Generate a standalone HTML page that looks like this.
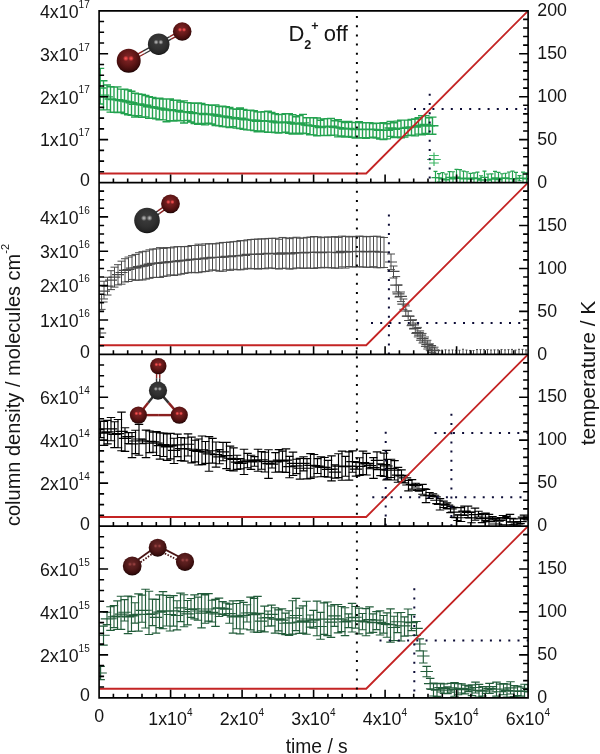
<!DOCTYPE html>
<html><head><meta charset="utf-8"><style>
html,body{margin:0;padding:0;background:#fff;}
body{width:600px;height:754px;position:relative;overflow:hidden;}
text{filter:grayscale(1);}
</style></head><body>
<svg width="600" height="754" viewBox="0 0 600 754" style="position:absolute;left:0;top:0">
<defs>
<radialGradient id="gr" cx="48%" cy="38%" r="62%"><stop offset="0" stop-color="#86282a"/><stop offset="0.5" stop-color="#641818"/><stop offset="0.85" stop-color="#400c0c"/><stop offset="1" stop-color="#1a0303"/></radialGradient>
<radialGradient id="gk" cx="48%" cy="38%" r="62%"><stop offset="0" stop-color="#3e3e3e"/><stop offset="0.6" stop-color="#303030"/><stop offset="0.88" stop-color="#242424"/><stop offset="1" stop-color="#0c0c0c"/></radialGradient>
<radialGradient id="go" cx="48%" cy="38%" r="62%"><stop offset="0" stop-color="#6a2626"/><stop offset="0.5" stop-color="#521a1a"/><stop offset="0.85" stop-color="#360c0c"/><stop offset="1" stop-color="#180404"/></radialGradient>
<radialGradient id="hr"><stop offset="0" stop-color="#ff5c5c" stop-opacity="1"/><stop offset="0.5" stop-color="#f04848" stop-opacity="0.7"/><stop offset="1" stop-color="#d03030" stop-opacity="0"/></radialGradient>
<radialGradient id="hk"><stop offset="0" stop-color="#c8c8c8" stop-opacity="1"/><stop offset="0.5" stop-color="#a0a0a0" stop-opacity="0.7"/><stop offset="1" stop-color="#808080" stop-opacity="0"/></radialGradient>
<radialGradient id="ho"><stop offset="0" stop-color="#b04848" stop-opacity="1"/><stop offset="0.5" stop-color="#904040" stop-opacity="0.6"/><stop offset="1" stop-color="#803030" stop-opacity="0"/></radialGradient>

<clipPath id="c0"><rect x="99.1" y="10.8" width="429" height="171.75"/></clipPath>
<clipPath id="c1"><rect x="99.1" y="182.55" width="429" height="171.75"/></clipPath>
<clipPath id="c2"><rect x="99.1" y="354.3" width="429" height="171.75"/></clipPath>
<clipPath id="c3"><rect x="99.1" y="526.05" width="429" height="171.75"/></clipPath>
</defs>
<rect width="600" height="754" fill="#fff"/>
<g clip-path="url(#c0)" stroke="#23a24f" fill="none">
<path stroke-width="1.4" d="M100.2 68.4V104M96.2 68.4h8M96.2 104h8M103.5 80.72V109.9M99.5 80.72h8M99.5 109.9h8M107 85.07V109.87M103 85.07h8M103 109.87h8M110.5 86.78V112.09M106.5 86.78h8M106.5 112.09h8M114 87.03V112.31M110 87.03h8M110 112.31h8M117.5 86.92V112.67M113.5 86.92h8M113.5 112.67h8M121 89.09V112.29M117 89.09h8M117 112.29h8M124.5 89.2V113.63M120.5 89.2h8M120.5 113.63h8M128 89.87V114.78M124 89.87h8M124 114.78h8M131.5 91.22V115.42M127.5 91.22h8M127.5 115.42h8M135 93.26V117.04M131 93.26h8M131 117.04h8M138.5 93.87V115.77M134.5 93.87h8M134.5 115.77h8M142 94.36V117.39M138 94.36h8M138 117.39h8M145.5 95.46V116.89M141.5 95.46h8M141.5 116.89h8M149 96.77V118.35M145 96.77h8M145 118.35h8M152.5 97.4V118.3M148.5 97.4h8M148.5 118.3h8M156 98.49V118.86M152 98.49h8M152 118.86h8M159.5 98.21V119.79M155.5 98.21h8M155.5 119.79h8M163 99.17V119.87M159 99.17h8M159 119.87h8M166.5 98.9V121.75M162.5 98.9h8M162.5 121.75h8M170 99.05V120.81M166 99.05h8M166 120.81h8M173.5 100.24V121M169.5 100.24h8M169.5 121h8M177 100.26V120.41M173 100.26h8M173 120.41h8M180.5 101.98V120.81M176.5 101.98h8M176.5 120.81h8M184 100.91V122.98M180 100.91h8M180 122.98h8M187.5 102.61V120.49M183.5 102.61h8M183.5 120.49h8M191 103V122.04M187 103h8M187 122.04h8M194.5 103.35V123.43M190.5 103.35h8M190.5 123.43h8M198 103.01V124.3M194 103.01h8M194 124.3h8M201.5 103.55V123.55M197.5 103.55h8M197.5 123.55h8M205 104.66V124.84M201 104.66h8M201 124.84h8M208.5 104.92V123.27M204.5 104.92h8M204.5 123.27h8M212 105.28V124.01M208 105.28h8M208 124.01h8M215.5 104.91V125.47M211.5 104.91h8M211.5 125.47h8M219 106.45V125.76M215 106.45h8M215 125.76h8M222.5 106.28V126.44M218.5 106.28h8M218.5 126.44h8M226 106.78V126.87M222 106.78h8M222 126.87h8M229.5 107.49V127.52M225.5 107.49h8M225.5 127.52h8M233 108.87V126.61M229 108.87h8M229 126.61h8M236.5 109.29V128.14M232.5 109.29h8M232.5 128.14h8M240 108V128.45M236 108h8M236 128.45h8M243.5 109.4V129.25M239.5 109.4h8M239.5 129.25h8M247 110.29V129.87M243 110.29h8M243 129.87h8M250.5 110.25V130.09M246.5 110.25h8M246.5 130.09h8M254 110.75V130.61M250 110.75h8M250 130.61h8M257.5 111.83V131.71M253.5 111.83h8M253.5 131.71h8M261 111.99V130.89M257 111.99h8M257 130.89h8M264.5 111.61V131.89M260.5 111.61h8M260.5 131.89h8M268 111.15V132.36M264 111.15h8M264 132.36h8M271.5 112.54V132.1M267.5 112.54h8M267.5 132.1h8M275 113.77V132.48M271 113.77h8M271 132.48h8M278.5 114.62V133.07M274.5 114.62h8M274.5 133.07h8M282 114.38V132.62M278 114.38h8M278 132.62h8M285.5 113.63V132.18M281.5 113.63h8M281.5 132.18h8M289 113.74V133.19M285 113.74h8M285 133.19h8M292.5 114.77V133.99M288.5 114.77h8M288.5 133.99h8M296 116.69V133.08M292 116.69h8M292 133.08h8M299.5 115.6V134.14M295.5 115.6h8M295.5 134.14h8M303 114.36V133.14M299 114.36h8M299 133.14h8M306.5 117.7V133.67M302.5 117.7h8M302.5 133.67h8M310 117.68V134.75M306 117.68h8M306 134.75h8M313.5 117.79V134.92M309.5 117.79h8M309.5 134.92h8M317 117.97V135.81M313 117.97h8M313 135.81h8M320.5 120.19V135.65M316.5 120.19h8M316.5 135.65h8M324 118.83V135.41M320 118.83h8M320 135.41h8M327.5 118.59V135.49M323.5 118.59h8M323.5 135.49h8M331 118.53V135.23M327 118.53h8M327 135.23h8M334.5 120.69V135.14M330.5 120.69h8M330.5 135.14h8M338 119.68V136.9M334 119.68h8M334 136.9h8M341.5 121.55V135.97M337.5 121.55h8M337.5 135.97h8M345 122.57V137.07M341 122.57h8M341 137.07h8M348.5 121.52V136.55M344.5 121.52h8M344.5 136.55h8M352 122.36V137.3M348 122.36h8M348 137.3h8M355.5 122.62V137.94M351.5 122.62h8M351.5 137.94h8M359 121.82V137.98M355 121.82h8M355 137.98h8M362.5 122.84V137.8M358.5 122.84h8M358.5 137.8h8M366 122.82V138.19M362 122.82h8M362 138.19h8M369.5 122.6V137.71M365.5 122.6h8M365.5 137.71h8M373 123.6V137.24M369 123.6h8M369 137.24h8M376.5 123.08V138.07M372.5 123.08h8M372.5 138.07h8M380 123.31V139.11M376 123.31h8M376 139.11h8M383.5 122.61V139.49M379.5 122.61h8M379.5 139.49h8M387 123.68V138.92M383 123.68h8M383 138.92h8M390.5 121.54V136.39M386.5 121.54h8M386.5 136.39h8M394 122.71V137.44M390 122.71h8M390 137.44h8M397.5 121.1V137.07M393.5 121.1h8M393.5 137.07h8M401 120.08V137.89M397 120.08h8M397 137.89h8M404.5 120.1V137.15M400.5 120.1h8M400.5 137.15h8M408 120.15V135.67M404 120.15h8M404 135.67h8M411.5 119.38V135.12M407.5 119.38h8M407.5 135.12h8M415 118.95V135.88M411 118.95h8M411 135.88h8M418.5 117.8V134.12M414.5 117.8h8M414.5 134.12h8M422 115.78V134.79M418 115.78h8M418 134.79h8M425.5 115.66V133.36M421.5 115.66h8M421.5 133.36h8M429 117.78V134.21M425 117.78h8M425 134.21h8M432.5 117.15V134.24M428.5 117.15h8M428.5 134.24h8"/>
<path stroke-width="1.4" d="M94.2 88h12M97.5 95.1h12M101 96.84h12M104.5 98.97h12M108 99.6h12M111.5 99.74h12M115 100.5h12M118.5 101.08h12M122 101.84h12M125.5 102.69h12M129 104.37h12M132.5 103.89h12M136 104.9h12M139.5 105.26h12M143 106.7h12M146.5 107.04h12M150 107.92h12M153.5 108.29h12M157 108.97h12M160.5 109.93h12M164 109.7h12M167.5 110.56h12M171 110.44h12M174.5 111.64h12M178 112.13h12M181.5 111.67h12M185 112.59h12M188.5 113.4h12M192 113.61h12M195.5 113.44h12M199 114.58h12M202.5 113.87h12M206 114.42h12M209.5 115h12M213 115.96h12M216.5 116.25h12M220 116.76h12M223.5 117.48h12M227 117.76h12M230.5 118.77h12M234 118.32h12M237.5 119.3h12M241 119.92h12M244.5 119.88h12M248 120.26h12M251.5 121.23h12M255 120.77h12M258.5 120.95h12M262 120.83h12M265.5 121.32h12M269 122.13h12M272.5 122.86h12M276 122.52h12M279.5 121.93h12M283 122.49h12M286.5 123.42h12M290 123.93h12M293.5 123.92h12M297 122.9h12M300.5 124.95h12M304 125.6h12M307.5 125.86h12M311 126.42h12M314.5 127.43h12M318 126.6h12M321.5 126.5h12M325 126.31h12M328.5 127.32h12M332 127.67h12M335.5 128.11h12M339 129.15h12M342.5 128.33h12M346 129.1h12M349.5 129.53h12M353 129.11h12M356.5 129.5h12M360 129.64h12M363.5 129.26h12M367 129.49h12M370.5 129.61h12M374 130.21h12M377.5 130.02h12M381 130.31h12M384.5 128.07h12M388 129.28h12M391.5 128.38h12M395 128.38h12M398.5 128.12h12M402 127.5h12M405.5 126.93h12M409 127.15h12M412.5 125.75h12M416 125.13h12M419.5 124.41h12M423 125.94h12M426.5 125.68h12"/>
</g>
<path clip-path="url(#c0)" stroke="#3fb566" stroke-width="1.2" fill="none" d="M434 152.5V166M429 155.5H438.8M429 163H438.8M427 159.5H440.8"/>
<g clip-path="url(#c0)" stroke="#23a24f" fill="none">
<path stroke-width="1.2" d="M435.5 171.38V183.91M433.5 171.38h4M433.5 183.91h4M439 173.71V182.08M437 173.71h4M437 182.08h4M442.5 172.57V185.24M440.5 172.57h4M440.5 185.24h4M446 173.99V185.48M444 173.99h4M444 185.48h4M449.5 171.6V183.42M447.5 171.6h4M447.5 183.42h4M453 171.74V185.79M451 171.74h4M451 185.79h4M456.5 169.43V185.11M454.5 169.43h4M454.5 185.11h4M460 169.71V186.66M458 169.71h4M458 186.66h4M463.5 171.03V186.57M461.5 171.03h4M461.5 186.57h4M467 171.74V184.73M465 171.74h4M465 184.73h4M470.5 173.4V184.8M468.5 173.4h4M468.5 184.8h4M474 172.86V182.99M472 172.86h4M472 182.99h4M477.5 172.04V185M475.5 172.04h4M475.5 185h4M481 175.77V184.22M479 175.77h4M479 184.22h4M484.5 171.22V183.52M482.5 171.22h4M482.5 183.52h4M488 174V185.89M486 174h4M486 185.89h4M491.5 173.88V184.34M489.5 173.88h4M489.5 184.34h4M495 171.37V184.7M493 171.37h4M493 184.7h4M498.5 172.45V186.54M496.5 172.45h4M496.5 186.54h4M502 173.77V182.68M500 173.77h4M500 182.68h4M505.5 173.24V182.84M503.5 173.24h4M503.5 182.84h4M509 172V185.34M507 172h4M507 185.34h4M512.5 171.17V186.24M510.5 171.17h4M510.5 186.24h4M516 172.39V185.13M514 172.39h4M514 185.13h4M519.5 175.71V180.73M517.5 175.71h4M517.5 180.73h4M523 172.1V184.1M521 172.1h4M521 184.1h4M526.5 172.88V184.71M524.5 172.88h4M524.5 184.71h4"/>
<path stroke-width="1.4" d="M431.5 177.64h8M435 177.9h8M438.5 178.9h8M442 179.73h8M445.5 177.51h8M449 178.77h8M452.5 177.27h8M456 178.18h8M459.5 178.8h8M463 178.24h8M466.5 179.1h8M470 177.93h8M473.5 178.52h8M477 179.99h8M480.5 177.37h8M484 179.94h8M487.5 179.11h8M491 178.03h8M494.5 179.5h8M498 178.23h8M501.5 178.04h8M505 178.67h8M508.5 178.7h8M512 178.76h8M515.5 178.22h8M519 178.1h8M522.5 178.8h8"/>
</g>
<g clip-path="url(#c1)" stroke="#4a4a4a" fill="none">
<path stroke-width="1.0" d="M100.2 329V337.5M96.2 329h8M96.2 337.5h8M101.6 294.4V309.4M97.6 294.4h8M97.6 309.4h8M104 281.24V298.96M100 281.24h8M100 298.96h8M107.5 277.25V295.02M103.5 277.25h8M103.5 295.02h8M111 270.71V289.61M107 270.71h8M107 289.61h8M114.5 267.16V287.1M110.5 267.16h8M110.5 287.1h8M118 264.7V284.92M114 264.7h8M114 284.92h8M121.5 261.17V284.17M117.5 261.17h8M117.5 284.17h8M125 258.73V281.98M121 258.73h8M121 281.98h8M128.5 257.09V281.48M124.5 257.09h8M124.5 281.48h8M132 255.68V279.41M128 255.68h8M128 279.41h8M135.5 254.41V280.37M131.5 254.41h8M131.5 280.37h8M139 252.74V279.99M135 252.74h8M135 279.99h8M142.5 251.69V279.97M138.5 251.69h8M138.5 279.97h8M146 251.17V279.08M142 251.17h8M142 279.08h8M149.5 249.85V278.3M145.5 249.85h8M145.5 278.3h8M153 249.02V277.45M149 249.02h8M149 277.45h8M156.5 248.89V277.37M152.5 248.89h8M152.5 277.37h8M160 247.64V277.42M156 247.64h8M156 277.42h8M163.5 248.44V276.42M159.5 248.44h8M159.5 276.42h8M167 247.55V276.01M163 247.55h8M163 276.01h8M170.5 247.92V274.87M166.5 247.92h8M166.5 274.87h8M174 247V275.5M170 247h8M170 275.5h8M177.5 246.67V274.9M173.5 246.67h8M173.5 274.9h8M181 246.56V274.16M177 246.56h8M177 274.16h8M184.5 246.7V273.45M180.5 246.7h8M180.5 273.45h8M188 246.41V272.8M184 246.41h8M184 272.8h8M191.5 245.51V272.38M187.5 245.51h8M187.5 272.38h8M195 245.49V272.73M191 245.49h8M191 272.73h8M198.5 244.17V272.65M194.5 244.17h8M194.5 272.65h8M202 245.32V271.84M198 245.32h8M198 271.84h8M205.5 243.9V271.54M201.5 243.9h8M201.5 271.54h8M209 243.77V270.99M205 243.77h8M205 270.99h8M212.5 243.78V269.92M208.5 243.78h8M208.5 269.92h8M216 243.75V270.36M212 243.75h8M212 270.36h8M219.5 243.03V271.23M215.5 243.03h8M215.5 271.23h8M223 242.45V271.19M219 242.45h8M219 271.19h8M226.5 242.42V269.76M222.5 242.42h8M222.5 269.76h8M230 242.08V270.33M226 242.08h8M226 270.33h8M233.5 241.7V269.25M229.5 241.7h8M229.5 269.25h8M237 241.36V269.72M233 241.36h8M233 269.72h8M240.5 240.59V269.83M236.5 240.59h8M236.5 269.83h8M244 240.8V269.24M240 240.8h8M240 269.24h8M247.5 239.93V268.32M243.5 239.93h8M243.5 268.32h8M251 239.5V268.87M247 239.5h8M247 268.87h8M254.5 239.25V268.48M250.5 239.25h8M250.5 268.48h8M258 239.11V269.11M254 239.11h8M254 269.11h8M261.5 238.9V268.44M257.5 238.9h8M257.5 268.44h8M265 238.89V268.81M261 238.89h8M261 268.81h8M268.5 238.45V267.98M264.5 238.45h8M264.5 267.98h8M272 238.33V268.11M268 238.33h8M268 268.11h8M275.5 238.28V268.59M271.5 238.28h8M271.5 268.59h8M279 239.25V269.04M275 239.25h8M275 269.04h8M282.5 237.45V268.32M278.5 237.45h8M278.5 268.32h8M286 237.92V268.25M282 237.92h8M282 268.25h8M289.5 238.64V269.1M285.5 238.64h8M285.5 269.1h8M293 237.75V268.72M289 237.75h8M289 268.72h8M296.5 237.25V268M292.5 237.25h8M292.5 268h8M300 238.21V267.96M296 238.21h8M296 267.96h8M303.5 237.99V268.37M299.5 237.99h8M299.5 268.37h8M307 237.38V268M303 237.38h8M303 268h8M310.5 237.09V268.17M306.5 237.09h8M306.5 268.17h8M314 236.54V268.45M310 236.54h8M310 268.45h8M317.5 236.84V267.71M313.5 236.84h8M313.5 267.71h8M321 237.67V267.87M317 237.67h8M317 267.87h8M324.5 237.15V267.36M320.5 237.15h8M320.5 267.36h8M328 237.07V267.77M324 237.07h8M324 267.77h8M331.5 237.08V267.75M327.5 237.08h8M327.5 267.75h8M335 236.65V268.15M331 236.65h8M331 268.15h8M338.5 237.41V268.13M334.5 237.41h8M334.5 268.13h8M342 236.2V266.89M338 236.2h8M338 266.89h8M345.5 236.35V268.05M341.5 236.35h8M341.5 268.05h8M349 236.94V266.55M345 236.94h8M345 266.55h8M352.5 236.35V267.05M348.5 236.35h8M348.5 267.05h8M356 236.8V266.79M352 236.8h8M352 266.79h8M359.5 236.11V266.82M355.5 236.11h8M355.5 266.82h8M363 236.38V266.99M359 236.38h8M359 266.99h8M366.5 236.79V267.26M362.5 236.79h8M362.5 267.26h8M370 236.44V267.27M366 236.44h8M366 267.27h8M373.5 236.37V266.71M369.5 236.37h8M369.5 266.71h8M377 236.25V267.71M373 236.25h8M373 267.71h8M380.5 237.02V267.72M376.5 237.02h8M376.5 267.72h8M384 237.49V267.47M380 237.49h8M380 267.47h8M391 254V269.7M387 254h8M387 269.7h8M393.5 266V278M389.5 266h8M389.5 278h8M396.2 276.6V292M392.2 276.6h8M392.2 292h8M398.54 285V297M394.54 285h8M394.54 297h8M400.95 292V301.6M396.95 292h8M396.95 301.6h8M403.36 299V309.3M399.36 299h8M399.36 309.3h8M405.77 305.9V316.2M401.77 305.9h8M401.77 316.2h8M408.18 311V320.5M404.18 311h8M404.18 320.5h8M410.59 316.2V325.7M406.59 316.2h8M406.59 325.7h8M413 319.7V329M409 319.7h8M409 329h8M415.31 323V333.4M411.31 323h8M411.31 333.4h8M417.82 327.4V336.9M413.82 327.4h8M413.82 336.9h8M420.13 330.9V340.3M416.13 330.9h8M416.13 340.3h8M422.54 333.4V343M418.54 333.4h8M418.54 343h8M424.95 337V346.4M420.95 337h8M420.95 346.4h8M427.36 340.3V349M423.36 340.3h8M423.36 349h8M429.77 343.8V350.7M425.77 343.8h8M425.77 350.7h8M432.09 345.5V352.4M428.09 345.5h8M428.09 352.4h8M434.5 347.2V353.3M430.5 347.2h8M430.5 353.3h8"/>
<path stroke-width="1.2" d="M94.2 333h12M95.6 302h12M98 291.1h12M101.5 286.14h12M105 280.16h12M108.5 277.13h12M112 274.71h12M115.5 272.48h12M119 270.4h12M122.5 269.52h12M126 268.05h12M129.5 267.78h12M133 266.65h12M136.5 266.04h12M140 265.28h12M143.5 264.18h12M147 263.41h12M150.5 263.38h12M154 262.8h12M157.5 262.71h12M161 262.08h12M164.5 261.7h12M168 261.57h12M171.5 261.13h12M175 260.71h12M178.5 260.44h12M182 259.99h12M185.5 259.34h12M189 259.52h12M192.5 258.83h12M196 259.02h12M199.5 258.17h12M203 257.81h12M206.5 257.26h12M210 257.46h12M213.5 257.51h12M217 257.19h12M220.5 256.44h12M224 256.54h12M227.5 255.79h12M231 255.84h12M234.5 255.49h12M238 255.28h12M241.5 254.38h12M245 254.42h12M248.5 254.08h12M252 254.31h12M255.5 253.84h12M259 253.99h12M262.5 253.33h12M266 253.3h12M269.5 253.48h12M273 254.17h12M276.5 252.87h12M280 253.04h12M283.5 253.8h12M287 253.13h12M290.5 252.49h12M294 252.92h12M297.5 252.98h12M301 252.46h12M304.5 252.38h12M308 252.26h12M311.5 252.06h12M315 252.57h12M318.5 252.07h12M322 252.25h12M325.5 252.26h12M329 252.26h12M332.5 252.65h12M336 251.44h12M339.5 252.11h12M343 251.67h12M346.5 251.64h12M350 251.76h12M353.5 251.44h12M357 251.68h12M360.5 252h12M364 251.76h12M367.5 251.39h12M371 251.76h12M374.5 252.09h12M378 252.13h12M385 262h12M387.5 271.4h12M390.2 285.2h12M392.54 293.8h12M394.95 296.4h12M397.36 304.1h12M399.77 311h12M402.18 316.2h12M404.59 320.5h12M407 324.8h12M409.31 328.3h12M411.82 332.6h12M414.13 335.2h12M416.54 338.6h12M418.95 342h12M421.36 344.7h12M423.77 347.2h12M426.09 349h12M428.5 350.7h12"/>
</g>
<g clip-path="url(#c1)" stroke="#4a4a4a" fill="none">
<path stroke-width="1.0" d="M428 349.73V354.96M427 349.73h2M427 354.96h2M431.5 349.53V354.89M430.5 349.53h2M430.5 354.89h2M435 350.27V354.27M434 350.27h2M434 354.27h2M438.5 349.83V354.35M437.5 349.83h2M437.5 354.35h2M442 350.1V354.85M441 350.1h2M441 354.85h2M445.5 349.81V355.14M444.5 349.81h2M444.5 355.14h2M449 350.08V354.37M448 350.08h2M448 354.37h2M452.5 349.92V354.74M451.5 349.92h2M451.5 354.74h2M456 350.19V354.8M455 350.19h2M455 354.8h2M459.5 350.24V355.05M458.5 350.24h2M458.5 355.05h2M463 349.24V355.3M462 349.24h2M462 355.3h2M466.5 350.06V354.79M465.5 350.06h2M465.5 354.79h2M470 350.43V354.5M469 350.43h2M469 354.5h2M473.5 350.5V354.59M472.5 350.5h2M472.5 354.59h2M477 349.57V354.98M476 349.57h2M476 354.98h2M480.5 349.67V354.68M479.5 349.67h2M479.5 354.68h2M484 349.67V354.19M483 349.67h2M483 354.19h2M487.5 349.59V354.93M486.5 349.59h2M486.5 354.93h2M491 350.03V355.31M490 350.03h2M490 355.31h2M494.5 349.86V354.59M493.5 349.86h2M493.5 354.59h2M498 349.92V354.45M497 349.92h2M497 354.45h2M501.5 349.47V354.76M500.5 349.47h2M500.5 354.76h2M505 349.87V354.69M504 349.87h2M504 354.69h2M508.5 349.63V354.72M507.5 349.63h2M507.5 354.72h2M512 349.42V355.39M511 349.42h2M511 355.39h2M515.5 350.09V354.77M514.5 350.09h2M514.5 354.77h2M519 349.32V355.37M518 349.32h2M518 355.37h2M522.5 349.38V354.64M521.5 349.38h2M521.5 354.64h2M526 349.94V354.68M525 349.94h2M525 354.68h2"/>
<path stroke-width="1.0" d="M428 352.4h0M431.5 352.26h0M435 352.32h0M438.5 352.14h0M442 352.52h0M445.5 352.53h0M449 352.27h0M452.5 352.38h0M456 352.55h0M459.5 352.69h0M463 352.32h0M466.5 352.48h0M470 352.51h0M473.5 352.59h0M477 352.33h0M480.5 352.22h0M484 351.98h0M487.5 352.31h0M491 352.72h0M494.5 352.28h0M498 352.23h0M501.5 352.16h0M505 352.33h0M508.5 352.22h0M512 352.46h0M515.5 352.48h0M519 352.39h0M522.5 352.06h0M526 352.36h0"/>
</g>
<g clip-path="url(#c2)" stroke="#000" fill="none">
<path stroke-width="1.15" d="M100.5 421.11V437.55M96.25 421.11h8.5M96.25 437.55h8.5M104 421.53V445.4M99.75 421.53h8.5M99.75 445.4h8.5M107.5 420.33V443.9M103.25 420.33h8.5M103.25 443.9h8.5M111 417.52V440.72M106.75 417.52h8.5M106.75 440.72h8.5M114.5 421.7V447.57M110.25 421.7h8.5M110.25 447.57h8.5M118 419.49V447.78M113.75 419.49h8.5M113.75 447.78h8.5M121.5 412.18V450.7M117.25 412.18h8.5M117.25 450.7h8.5M125 427.76V451.38M120.75 427.76h8.5M120.75 451.38h8.5M128.5 432.59V443.48M124.25 432.59h8.5M124.25 443.48h8.5M132 432.46V457.63M127.75 432.46h8.5M127.75 457.63h8.5M135.5 430.28V453.66M131.25 430.28h8.5M131.25 453.66h8.5M139 424.37V455.21M134.75 424.37h8.5M134.75 455.21h8.5M142.5 439.25V443.76M138.25 439.25h8.5M138.25 443.76h8.5M146 430.13V457.64M141.75 430.13h8.5M141.75 457.64h8.5M149.5 430.97V452.63M145.25 430.97h8.5M145.25 452.63h8.5M153 432.25V452.24M148.75 432.25h8.5M148.75 452.24h8.5M156.5 431.63V455.51M152.25 431.63h8.5M152.25 455.51h8.5M160 432.8V459.19M155.75 432.8h8.5M155.75 459.19h8.5M163.5 433.16V456.47M159.25 433.16h8.5M159.25 456.47h8.5M167 433.96V460.44M162.75 433.96h8.5M162.75 460.44h8.5M170.5 433.36V458.93M166.25 433.36h8.5M166.25 458.93h8.5M174 438.27V463.51M169.75 438.27h8.5M169.75 463.51h8.5M177.5 434.16V456.6M173.25 434.16h8.5M173.25 456.6h8.5M181 437.51V460.61M176.75 437.51h8.5M176.75 460.61h8.5M184.5 438.03V461.09M180.25 438.03h8.5M180.25 461.09h8.5M188 433.85V456.04M183.75 433.85h8.5M183.75 456.04h8.5M191.5 437.07V462.81M187.25 437.07h8.5M187.25 462.81h8.5M195 440.29V461.87M190.75 440.29h8.5M190.75 461.87h8.5M198.5 438.96V465M194.25 438.96h8.5M194.25 465h8.5M202 436.01V464.61M197.75 436.01h8.5M197.75 464.61h8.5M205.5 441.51V463.32M201.25 441.51h8.5M201.25 463.32h8.5M209 436.62V471.27M204.75 436.62h8.5M204.75 471.27h8.5M212.5 438.32V463.13M208.25 438.32h8.5M208.25 463.13h8.5M216 441.99V467.18M211.75 441.99h8.5M211.75 467.18h8.5M219.5 449.62V463.78M215.25 449.62h8.5M215.25 463.78h8.5M223 442.44V460.79M218.75 442.44h8.5M218.75 460.79h8.5M226.5 442.44V468.59M222.25 442.44h8.5M222.25 468.59h8.5M230 446.15V470.37M225.75 446.15h8.5M225.75 470.37h8.5M233.5 447.91V470.91M229.25 447.91h8.5M229.25 470.91h8.5M237 455.28V469.41M232.75 455.28h8.5M232.75 469.41h8.5M240.5 458.63V468.82M236.25 458.63h8.5M236.25 468.82h8.5M244 449.23V474.48M239.75 449.23h8.5M239.75 474.48h8.5M247.5 453.3V467.75M243.25 453.3h8.5M243.25 467.75h8.5M251 455.27V469.33M246.75 455.27h8.5M246.75 469.33h8.5M254.5 456.59V466.23M250.25 456.59h8.5M250.25 466.23h8.5M258 449.22V471.28M253.75 449.22h8.5M253.75 471.28h8.5M261.5 451.6V469.27M257.25 451.6h8.5M257.25 469.27h8.5M265 452.25V472.04M260.75 452.25h8.5M260.75 472.04h8.5M268.5 449.79V478.38M264.25 449.79h8.5M264.25 478.38h8.5M272 461.19V468M267.75 461.19h8.5M267.75 468h8.5M275.5 452.66V472.2M271.25 452.66h8.5M271.25 472.2h8.5M279 449.62V471.75M274.75 449.62h8.5M274.75 471.75h8.5M282.5 451.12V472.19M278.25 451.12h8.5M278.25 472.19h8.5M286 448.88V472.4M281.75 448.88h8.5M281.75 472.4h8.5M289.5 456.4V477.79M285.25 456.4h8.5M285.25 477.79h8.5M293 452.12V475.52M288.75 452.12h8.5M288.75 475.52h8.5M296.5 459.27V473.66M292.25 459.27h8.5M292.25 473.66h8.5M300 458.4V479.11M295.75 458.4h8.5M295.75 479.11h8.5M303.5 456.79V470.83M299.25 456.79h8.5M299.25 470.83h8.5M307 458.69V478.83M302.75 458.69h8.5M302.75 478.83h8.5M310.5 453.56V478.32M306.25 453.56h8.5M306.25 478.32h8.5M314 454.51V476.95M309.75 454.51h8.5M309.75 476.95h8.5M317.5 458.62V473.53M313.25 458.62h8.5M313.25 473.53h8.5M321 456.94V476.78M316.75 456.94h8.5M316.75 476.78h8.5M324.5 457.45V476.47M320.25 457.45h8.5M320.25 476.47h8.5M328 460.38V477.09M323.75 460.38h8.5M323.75 477.09h8.5M331.5 455.9V480.9M327.25 455.9h8.5M327.25 480.9h8.5M335 464.8V478.17M330.75 464.8h8.5M330.75 478.17h8.5M338.5 453.7V477.63M334.25 453.7h8.5M334.25 477.63h8.5M342 451.19V480.23M337.75 451.19h8.5M337.75 480.23h8.5M345.5 456.35V476.24M341.25 456.35h8.5M341.25 476.24h8.5M349 451.81V480.08M344.75 451.81h8.5M344.75 480.08h8.5M352.5 450.89V472.2M348.25 450.89h8.5M348.25 472.2h8.5M356 462.35V476.13M351.75 462.35h8.5M351.75 476.13h8.5M359.5 457.76V475.42M355.25 457.76h8.5M355.25 475.42h8.5M363 451.14V474.48M358.75 451.14h8.5M358.75 474.48h8.5M366.5 453.42V475M362.25 453.42h8.5M362.25 475h8.5M370 463.42V468.7M365.75 463.42h8.5M365.75 468.7h8.5M373.5 457.68V478.44M369.25 457.68h8.5M369.25 478.44h8.5M377 451.93V469.67M372.75 451.93h8.5M372.75 469.67h8.5M380.5 463.8V475.62M376.25 463.8h8.5M376.25 475.62h8.5M384 453.08V476.41M379.75 453.08h8.5M379.75 476.41h8.5M387.5 459.33V479.04M383.25 459.33h8.5M383.25 479.04h8.5M391 459.28V477.48M386.75 459.28h8.5M386.75 477.48h8.5M394.5 460.64V480.04M390.25 460.64h8.5M390.25 480.04h8.5M398 467.43V482.2M393.75 467.43h8.5M393.75 482.2h8.5M401.5 469.92V481.72M397.25 469.92h8.5M397.25 481.72h8.5M405 475.33V482.8M400.75 475.33h8.5M400.75 482.8h8.5M408.5 480.41V490.82M404.25 480.41h8.5M404.25 490.82h8.5M412 479.59V489.13M407.75 479.59h8.5M407.75 489.13h8.5M415.5 483.24V487.01M411.25 483.24h8.5M411.25 487.01h8.5M419 490.26V491.15M414.75 490.26h8.5M414.75 491.15h8.5M422.5 484.36V494.26M418.25 484.36h8.5M418.25 494.26h8.5M426 489.34V502.6M421.75 489.34h8.5M421.75 502.6h8.5M429.5 492.47V498.49M425.25 492.47h8.5M425.25 498.49h8.5M433 493.81V496.67M428.75 493.81h8.5M428.75 496.67h8.5M436.5 496.87V503.66M432.25 496.87h8.5M432.25 503.66h8.5M440 498.58V510.01M435.75 498.58h8.5M435.75 510.01h8.5M443.5 501.08V507.53M439.25 501.08h8.5M439.25 507.53h8.5M447 502.89V508.32M442.75 502.89h8.5M442.75 508.32h8.5M450.5 506.38V512.6M446.25 506.38h8.5M446.25 512.6h8.5M454 507.42V517.32M449.75 507.42h8.5M449.75 517.32h8.5M457.5 520.45V514.99M453.25 520.45h8.5M453.25 514.99h8.5M461 507.68V521.49M456.75 507.68h8.5M456.75 521.49h8.5M464.5 506.07V515.45M460.25 506.07h8.5M460.25 515.45h8.5M468 506.08V517.67M463.75 506.08h8.5M463.75 517.67h8.5M471.5 512.1V522.76M467.25 512.1h8.5M467.25 522.76h8.5M475 508.17V520.21M470.75 508.17h8.5M470.75 520.21h8.5M478.5 511.28V516.95M474.25 511.28h8.5M474.25 516.95h8.5M482 513.6V522.59M477.75 513.6h8.5M477.75 522.59h8.5M485.5 513.13V520.5M481.25 513.13h8.5M481.25 520.5h8.5M489 514.43V528.04M484.75 514.43h8.5M484.75 528.04h8.5M492.5 519.85V516.62M488.25 519.85h8.5M488.25 516.62h8.5M496 518.06V529.23M491.75 518.06h8.5M491.75 529.23h8.5M499.5 518.9V521.17M495.25 518.9h8.5M495.25 521.17h8.5M503 518.88V515.45M498.75 518.88h8.5M498.75 515.45h8.5M506.5 516.42V532.53M502.25 516.42h8.5M502.25 532.53h8.5M510 514.35V521.76M505.75 514.35h8.5M505.75 521.76h8.5M513.5 518.84V524.74M509.25 518.84h8.5M509.25 524.74h8.5M517 521.9V525.28M512.75 521.9h8.5M512.75 525.28h8.5M520.5 518.75V523.62M516.25 518.75h8.5M516.25 523.62h8.5M524 518.12V515.14M519.75 518.12h8.5M519.75 515.14h8.5M527.5 517.04V519.8M523.25 517.04h8.5M523.25 519.8h8.5M386.5 450.4V480M382.25 450.4h8.5M382.25 480h8.5"/>
<path stroke-width="1.2" d="M94.25 428.84h12.5M97.75 433.06h12.5M101.25 431.79h12.5M104.75 428.88h12.5M108.25 434.48h12.5M111.75 433.57h12.5M115.25 431.29h12.5M118.75 438.37h12.5M122.25 436.67h12.5M125.75 443.87h12.5M129.25 440.98h12.5M132.75 438.99h12.5M136.25 440.81h12.5M139.75 443.26h12.5M143.25 441.24h12.5M146.75 441.76h12.5M150.25 443.15h12.5M153.75 445.64h12.5M157.25 444.53h12.5M160.75 446.91h12.5M164.25 445.78h12.5M167.75 450.46h12.5M171.25 444.88h12.5M174.75 448.49h12.5M178.25 448.92h12.5M181.75 444.24h12.5M185.25 449.24h12.5M188.75 450.5h12.5M192.25 451.51h12.5M195.75 449.96h12.5M199.25 452.18h12.5M202.75 453.83h12.5M206.25 450.73h12.5M209.75 454.7h12.5M213.25 456.93h12.5M216.75 451.79h12.5M220.25 455.6h12.5M223.75 458.26h12.5M227.25 459.32h12.5M230.75 462.17h12.5M234.25 463.47h12.5M237.75 461.5h12.5M241.25 460.09h12.5M244.75 461.8h12.5M248.25 460.91h12.5M251.75 459.75h12.5M255.25 459.94h12.5M258.75 461.65h12.5M262.25 463.59h12.5M265.75 464.1h12.5M269.25 461.93h12.5M272.75 460.18h12.5M276.25 461.15h12.5M279.75 460.14h12.5M283.25 466.59h12.5M286.75 463.32h12.5M290.25 465.97h12.5M293.75 468.26h12.5M297.25 463.31h12.5M300.75 468.26h12.5M304.25 465.47h12.5M307.75 465.48h12.5M311.25 466.05h12.5M314.75 467.05h12.5M318.25 467.36h12.5M321.75 469.36h12.5M325.25 469.11h12.5M328.75 472.09h12.5M332.25 466.16h12.5M335.75 466.1h12.5M339.25 466.58h12.5M342.75 466.13h12.5M346.25 461.62h12.5M349.75 469.2h12.5M353.25 466.43h12.5M356.75 462.55h12.5M360.25 463.91h12.5M363.75 465.71h12.5M367.25 467.67h12.5M370.75 460.37h12.5M374.25 469.24h12.5M377.75 464.62h12.5M381.25 470.06h12.5M384.75 468.38h12.5M388.25 470.06h12.5M391.75 475.03h12.5M395.25 475.8h12.5M398.75 477.81h12.5M402.25 484.98h12.5M405.75 484.34h12.5M409.25 485.52h12.5M412.75 490.4h12.5M416.25 488.94h12.5M419.75 495.77h12.5M423.25 495.46h12.5M426.75 495.24h12.5M430.25 500.27h12.5M433.75 504.3h12.5M437.25 504.05h12.5M440.75 505.08h12.5M444.25 508.79h12.5M447.75 512.04h12.5M451.25 517.76h12.5M454.75 514.9h12.5M458.25 511.12h12.5M461.75 512.28h12.5M465.25 517.88h12.5M468.75 514.69h12.5M472.25 514.59h12.5M475.75 518.54h12.5M479.25 517.23h12.5M482.75 521.62h12.5M486.25 518.6h12.5M489.75 523.98h12.5M493.25 520.34h12.5M496.75 517.49h12.5M500.25 524.82h12.5M503.75 518.43h12.5M507.25 522.19h12.5M510.75 524.01h12.5M514.25 521.63h12.5M517.75 517.1h12.5M521.25 518.92h12.5M380.25 466h12.5"/>
</g>
<g clip-path="url(#c3)" stroke="#225c3a" fill="none">
<path stroke-width="1.15" d="M100.6 666.3V679.6M96.35 666.3h8.5M96.35 679.6h8.5M103.5 626.19V645.18M99.25 626.19h8.5M99.25 645.18h8.5M107 612.22V624.58M102.75 612.22h8.5M102.75 624.58h8.5M110.5 606.79V630.4M106.25 606.79h8.5M106.25 630.4h8.5M114 605.55V627.57M109.75 605.55h8.5M109.75 627.57h8.5M117.5 600.93V629.49M113.25 600.93h8.5M113.25 629.49h8.5M121 596.25V629.31M116.75 596.25h8.5M116.75 629.31h8.5M124.5 599.55V621M120.25 599.55h8.5M120.25 621h8.5M128 596.13V633.61M123.75 596.13h8.5M123.75 633.61h8.5M131.5 596.76V631.3M127.25 596.76h8.5M127.25 631.3h8.5M135 602.7V623.17M130.75 602.7h8.5M130.75 623.17h8.5M138.5 593.87V631.09M134.25 593.87h8.5M134.25 631.09h8.5M142 595.18V622.22M137.75 595.18h8.5M137.75 622.22h8.5M145.5 589.24V627.98M141.25 589.24h8.5M141.25 627.98h8.5M149 591.22V634.49M144.75 591.22h8.5M144.75 634.49h8.5M152.5 599.07V625.64M148.25 599.07h8.5M148.25 625.64h8.5M156 599.36V633.07M151.75 599.36h8.5M151.75 633.07h8.5M159.5 594.87V627.66M155.25 594.87h8.5M155.25 627.66h8.5M163 591.58V628.79M158.75 591.58h8.5M158.75 628.79h8.5M166.5 595.4V625.97M162.25 595.4h8.5M162.25 625.97h8.5M170 597.43V631M165.75 597.43h8.5M165.75 631h8.5M173.5 595.55V626.07M169.25 595.55h8.5M169.25 626.07h8.5M177 600.76V629.83M172.75 600.76h8.5M172.75 629.83h8.5M180.5 593.08V621.62M176.25 593.08h8.5M176.25 621.62h8.5M184 594.76V626.73M179.75 594.76h8.5M179.75 626.73h8.5M187.5 600.51V624.84M183.25 600.51h8.5M183.25 624.84h8.5M191 598.51V617.33M186.75 598.51h8.5M186.75 617.33h8.5M194.5 594.92V618.87M190.25 594.92h8.5M190.25 618.87h8.5M198 597.07V620.27M193.75 597.07h8.5M193.75 620.27h8.5M201.5 593.69V627.82M197.25 593.69h8.5M197.25 627.82h8.5M205 594.91V623.24M200.75 594.91h8.5M200.75 623.24h8.5M208.5 593.56V621.07M204.25 593.56h8.5M204.25 621.07h8.5M212 600.22V621.97M207.75 600.22h8.5M207.75 621.97h8.5M215.5 599.4V626.4M211.25 599.4h8.5M211.25 626.4h8.5M219 598.12V616.5M214.75 598.12h8.5M214.75 616.5h8.5M222.5 601.61V614.49M218.25 601.61h8.5M218.25 614.49h8.5M226 603.02V615.34M221.75 603.02h8.5M221.75 615.34h8.5M229.5 604.08V623.24M225.25 604.08h8.5M225.25 623.24h8.5M233 600.89V633.11M228.75 600.89h8.5M228.75 633.11h8.5M236.5 603.5V628.73M232.25 603.5h8.5M232.25 628.73h8.5M240 600.65V633.87M235.75 600.65h8.5M235.75 633.87h8.5M243.5 602.34V628.99M239.25 602.34h8.5M239.25 628.99h8.5M247 604.76V622.01M242.75 604.76h8.5M242.75 622.01h8.5M250.5 597.08V629.83M246.25 597.08h8.5M246.25 629.83h8.5M254 598.43V631.99M249.75 598.43h8.5M249.75 631.99h8.5M257.5 596.34V632.34M253.25 596.34h8.5M253.25 632.34h8.5M261 613.39V630.72M256.75 613.39h8.5M256.75 630.72h8.5M264.5 606.13V631.82M260.25 606.13h8.5M260.25 631.82h8.5M268 611V626.28M263.75 611h8.5M263.75 626.28h8.5M271.5 605.19V625.86M267.25 605.19h8.5M267.25 625.86h8.5M275 607.72V633.1M270.75 607.72h8.5M270.75 633.1h8.5M278.5 609.94V630.84M274.25 609.94h8.5M274.25 630.84h8.5M282 608.94V633.59M277.75 608.94h8.5M277.75 633.59h8.5M285.5 613.11V634.64M281.25 613.11h8.5M281.25 634.64h8.5M289 610.75V635.31M284.75 610.75h8.5M284.75 635.31h8.5M292.5 600.79V634.07M288.25 600.79h8.5M288.25 634.07h8.5M296 598.41V630.68M291.75 598.41h8.5M291.75 630.68h8.5M299.5 608.13V633.35M295.25 608.13h8.5M295.25 633.35h8.5M303 605.94V633.15M298.75 605.94h8.5M298.75 633.15h8.5M306.5 601.24V634.2M302.25 601.24h8.5M302.25 634.2h8.5M310 614.98V627.11M305.75 614.98h8.5M305.75 627.11h8.5M313.5 610.41V628.08M309.25 610.41h8.5M309.25 628.08h8.5M317 601.19V635.7M312.75 601.19h8.5M312.75 635.7h8.5M320.5 612.43V639.28M316.25 612.43h8.5M316.25 639.28h8.5M324 602.83V634.44M319.75 602.83h8.5M319.75 634.44h8.5M327.5 602.02V635.55M323.25 602.02h8.5M323.25 635.55h8.5M331 605.97V637.36M326.75 605.97h8.5M326.75 637.36h8.5M334.5 604.66V626.31M330.25 604.66h8.5M330.25 626.31h8.5M338 604.49V632.83M333.75 604.49h8.5M333.75 632.83h8.5M341.5 606.45V631.64M337.25 606.45h8.5M337.25 631.64h8.5M345 607.7V635.66M340.75 607.7h8.5M340.75 635.66h8.5M348.5 613.88V627.58M344.25 613.88h8.5M344.25 627.58h8.5M352 603.36V632.04M347.75 603.36h8.5M347.75 632.04h8.5M355.5 606.45V628.06M351.25 606.45h8.5M351.25 628.06h8.5M359 608.09V633.88M354.75 608.09h8.5M354.75 633.88h8.5M362.5 613.45V629.71M358.25 613.45h8.5M358.25 629.71h8.5M366 608.69V635.78M361.75 608.69h8.5M361.75 635.78h8.5M369.5 606.91V633.05M365.25 606.91h8.5M365.25 633.05h8.5M373 613.81V632.34M368.75 613.81h8.5M368.75 632.34h8.5M376.5 611.56V629.65M372.25 611.56h8.5M372.25 629.65h8.5M380 610.8V635.04M375.75 610.8h8.5M375.75 635.04h8.5M383.5 615.48V633.16M379.25 615.48h8.5M379.25 633.16h8.5M387 612.81V637.28M382.75 612.81h8.5M382.75 637.28h8.5M390.5 608.92V642.13M386.25 608.92h8.5M386.25 642.13h8.5M394 616.22V640.46M389.75 616.22h8.5M389.75 640.46h8.5M397.5 612.78V632.67M393.25 612.78h8.5M393.25 632.67h8.5M401 612.52V641.04M396.75 612.52h8.5M396.75 641.04h8.5M404.5 616.81V636.06M400.25 616.81h8.5M400.25 636.06h8.5M408 608.97V635.72M403.75 608.97h8.5M403.75 635.72h8.5M411.5 614.65V630.59M407.25 614.65h8.5M407.25 630.59h8.5M416.5 621.5V635.3M412.25 621.5h8.5M412.25 635.3h8.5M419.8 638.8V650.9M415.55 638.8h8.5M415.55 650.9h8.5M423.3 651V663M419.05 651h8.5M419.05 663h8.5M426.7 666.4V676.7M422.45 666.4h8.5M422.45 676.7h8.5M430.2 678.4V688.8M425.95 678.4h8.5M425.95 688.8h8.5M433.5 683.05V696.03M429.25 683.05h8.5M429.25 696.03h8.5M437 683.79V696.36M432.75 683.79h8.5M432.75 696.36h8.5M440.5 683.31V691.96M436.25 683.31h8.5M436.25 691.96h8.5M444 683.84V693.42M439.75 683.84h8.5M439.75 693.42h8.5M447.5 686.9V693.65M443.25 686.9h8.5M443.25 693.65h8.5M451 683.39V692.17M446.75 683.39h8.5M446.75 692.17h8.5M454.5 682.69V696.25M450.25 682.69h8.5M450.25 696.25h8.5M458 683.57V694.78M453.75 683.57h8.5M453.75 694.78h8.5M461.5 683.84V692.95M457.25 683.84h8.5M457.25 692.95h8.5M465 685.25V693.91M460.75 685.25h8.5M460.75 693.91h8.5M468.5 686.06V691.56M464.25 686.06h8.5M464.25 691.56h8.5M472 684.82V695.67M467.75 684.82h8.5M467.75 695.67h8.5M475.5 682.1V692.95M471.25 682.1h8.5M471.25 692.95h8.5M479 684.35V697.02M474.75 684.35h8.5M474.75 697.02h8.5M482.5 686.57V695.95M478.25 686.57h8.5M478.25 695.95h8.5M486 686.66V693.41M481.75 686.66h8.5M481.75 693.41h8.5M489.5 683.34V693.51M485.25 683.34h8.5M485.25 693.51h8.5M493 686.46V691.96M488.75 686.46h8.5M488.75 691.96h8.5M496.5 682.1V696.07M492.25 682.1h8.5M492.25 696.07h8.5M500 684.06V699.47M495.75 684.06h8.5M495.75 699.47h8.5M503.5 683.66V694.74M499.25 683.66h8.5M499.25 694.74h8.5M507 684.09V697.01M502.75 684.09h8.5M502.75 697.01h8.5M510.5 681.75V693.97M506.25 681.75h8.5M506.25 693.97h8.5M514 685.57V696.64M509.75 685.57h8.5M509.75 696.64h8.5M517.5 686.17V695.52M513.25 686.17h8.5M513.25 695.52h8.5M521 686.95V696.1M516.75 686.95h8.5M516.75 696.1h8.5M524.5 684.27V697.73M520.25 684.27h8.5M520.25 697.73h8.5M528 684.62V692.03M523.75 684.62h8.5M523.75 692.03h8.5"/>
<path stroke-width="1.15" d="M94.35 673h12.5M97.25 635.28h12.5M100.75 618.81h12.5M104.25 618.72h12.5M107.75 616.87h12.5M111.25 616.06h12.5M114.75 614.16h12.5M118.25 612.2h12.5M121.75 616.81h12.5M125.25 615.9h12.5M128.75 614.73h12.5M132.25 614.21h12.5M135.75 610.36h12.5M139.25 610.2h12.5M142.75 614.38h12.5M146.25 613.7h12.5M149.75 617.35h12.5M153.25 612.19h12.5M156.75 610.9h12.5M160.25 611.19h12.5M163.75 614.52h12.5M167.25 610.9h12.5M170.75 615.49h12.5M174.25 607.9h12.5M177.75 611.64h12.5M181.25 613.93h12.5M184.75 609.52h12.5M188.25 608.85h12.5M191.75 610.97h12.5M195.25 613.1h12.5M198.75 611.07h12.5M202.25 608.96h12.5M205.75 612.4h12.5M209.25 613.85h12.5M212.75 607.91h12.5M216.25 608.3h12.5M219.75 609.16h12.5M223.25 613.57h12.5M226.75 616.84h12.5M230.25 615.89h12.5M233.75 616.96h12.5M237.25 615.3h12.5M240.75 612.95h12.5M244.25 612.94h12.5M247.75 614.58h12.5M251.25 613.59h12.5M254.75 621.18h12.5M258.25 617.99h12.5M261.75 617.54h12.5M265.25 614.31h12.5M268.75 619.08h12.5M272.25 618.94h12.5M275.75 620.07h12.5M279.25 623.2h12.5M282.75 622.88h12.5M286.25 617.8h12.5M289.75 615.45h12.5M293.25 622.16h12.5M296.75 620.93h12.5M300.25 618.96h12.5M303.75 622.14h12.5M307.25 620.2h12.5M310.75 619.26h12.5M314.25 626.53h12.5M317.75 619.17h12.5M321.25 619.24h12.5M324.75 622.06h12.5M328.25 615.83h12.5M331.75 618.94h12.5M335.25 619.27h12.5M338.75 621.84h12.5M342.25 620.84h12.5M345.75 617.75h12.5M349.25 617.24h12.5M352.75 620.9h12.5M356.25 621.42h12.5M359.75 622h12.5M363.25 619.66h12.5M366.75 622.68h12.5M370.25 620.14h12.5M373.75 622.37h12.5M377.25 623.69h12.5M380.75 624.34h12.5M384.25 624.74h12.5M387.75 627.48h12.5M391.25 621.78h12.5M394.75 625.86h12.5M398.25 625.81h12.5M401.75 622.01h12.5M405.25 622.58h12.5M410.25 628.4h12.5M413.55 644h12.5M417.05 656h12.5M420.45 671.5h12.5M423.95 683.6h12.5M427.25 689.54h12.5M430.75 690.08h12.5M434.25 687.63h12.5M437.75 688.63h12.5M441.25 690.28h12.5M444.75 687.78h12.5M448.25 689.47h12.5M451.75 689.17h12.5M455.25 688.39h12.5M458.75 689.58h12.5M462.25 688.81h12.5M465.75 690.24h12.5M469.25 687.52h12.5M472.75 690.68h12.5M476.25 691.26h12.5M479.75 690.03h12.5M483.25 688.42h12.5M486.75 689.21h12.5M490.25 689.08h12.5M493.75 691.76h12.5M497.25 689.2h12.5M500.75 690.55h12.5M504.25 687.86h12.5M507.75 691.1h12.5M511.25 690.85h12.5M514.75 691.52h12.5M518.25 691h12.5M521.75 688.33h12.5"/>
</g>
<polyline clip-path="url(#c0)" points="99.1,173.5 366.2,173.5 528.1,10.8" fill="none" stroke="#c42424" stroke-width="1.8"/>
<polyline clip-path="url(#c1)" points="99.1,345.25 366.2,345.25 528.1,182.55" fill="none" stroke="#c42424" stroke-width="1.8"/>
<polyline clip-path="url(#c2)" points="99.1,517 366.2,517 528.1,354.3" fill="none" stroke="#c42424" stroke-width="1.8"/>
<polyline clip-path="url(#c3)" points="99.1,688.75 366.2,688.75 528.1,526.05" fill="none" stroke="#c42424" stroke-width="1.8"/>
<line x1="356.9" y1="16" x2="356.9" y2="698" stroke="#000" stroke-width="2" stroke-dasharray="2 7.2"/>
<line x1="429.7" y1="93.8" x2="429.7" y2="182" stroke="#0c0c36" stroke-width="2" stroke-dasharray="2 7.2"/>
<line x1="414" y1="108.9" x2="528" y2="108.9" stroke="#0c0c36" stroke-width="2" stroke-dasharray="2 7.2"/>
<line x1="388.9" y1="214.6" x2="388.9" y2="354" stroke="#0c0c36" stroke-width="2" stroke-dasharray="2 7.2"/>
<line x1="371" y1="323" x2="528" y2="323" stroke="#0c0c36" stroke-width="2" stroke-dasharray="2 7.2"/>
<line x1="385.7" y1="431.8" x2="385.7" y2="526" stroke="#0c0c36" stroke-width="2" stroke-dasharray="2 7.2"/>
<line x1="372.3" y1="497.3" x2="528" y2="497.3" stroke="#0c0c36" stroke-width="2" stroke-dasharray="2 7.2"/>
<line x1="451.4" y1="413.8" x2="451.4" y2="526" stroke="#0c0c36" stroke-width="2" stroke-dasharray="2 7.2"/>
<line x1="434.5" y1="433" x2="528" y2="433" stroke="#0c0c36" stroke-width="2" stroke-dasharray="2 7.2"/>
<line x1="414.3" y1="588.2" x2="414.3" y2="698" stroke="#0c0c36" stroke-width="2" stroke-dasharray="2 7.2"/>
<line x1="379.5" y1="640.5" x2="528" y2="640.5" stroke="#0c0c36" stroke-width="2" stroke-dasharray="2 7.2"/>
<path d="M113.4 182.55L113.4 178.55M127.7 182.55L127.7 178.55M142 182.55L142 178.55M156.3 182.55L156.3 178.55M170.6 182.55L170.6 174.55M184.9 182.55L184.9 178.55M199.2 182.55L199.2 178.55M213.5 182.55L213.5 178.55M227.8 182.55L227.8 178.55M242.1 182.55L242.1 174.55M256.4 182.55L256.4 178.55M270.7 182.55L270.7 178.55M285 182.55L285 178.55M299.3 182.55L299.3 178.55M313.6 182.55L313.6 174.55M327.9 182.55L327.9 178.55M342.2 182.55L342.2 178.55M356.5 182.55L356.5 178.55M370.8 182.55L370.8 178.55M385.1 182.55L385.1 174.55M399.4 182.55L399.4 178.55M413.7 182.55L413.7 178.55M428 182.55L428 178.55M442.3 182.55L442.3 178.55M456.6 182.55L456.6 174.55M470.9 182.55L470.9 178.55M485.2 182.55L485.2 178.55M499.5 182.55L499.5 178.55M513.8 182.55L513.8 178.55M99.1 171.82L104.1 171.82M99.1 161.08L104.1 161.08M99.1 150.35L104.1 150.35M99.1 139.61L108.1 139.61M99.1 128.88L104.1 128.88M99.1 118.14L104.1 118.14M99.1 107.41L104.1 107.41M99.1 96.68L108.1 96.68M99.1 85.94L104.1 85.94M99.1 75.21L104.1 75.21M99.1 64.47L104.1 64.47M99.1 53.74L108.1 53.74M99.1 43L104.1 43M99.1 32.27L104.1 32.27M99.1 21.53L104.1 21.53M528.1 173.96L523.1 173.96M528.1 165.38L523.1 165.38M528.1 156.79L523.1 156.79M528.1 148.2L523.1 148.2M528.1 139.61L519.1 139.61M528.1 131.03L523.1 131.03M528.1 122.44L523.1 122.44M528.1 113.85L523.1 113.85M528.1 105.26L523.1 105.26M528.1 96.68L519.1 96.68M528.1 88.09L523.1 88.09M528.1 79.5L523.1 79.5M528.1 70.91L523.1 70.91M528.1 62.33L523.1 62.33M528.1 53.74L519.1 53.74M528.1 45.15L523.1 45.15M528.1 36.56L523.1 36.56M528.1 27.98L523.1 27.98M528.1 19.39L523.1 19.39M113.4 354.3L113.4 350.3M127.7 354.3L127.7 350.3M142 354.3L142 350.3M156.3 354.3L156.3 350.3M170.6 354.3L170.6 346.3M184.9 354.3L184.9 350.3M199.2 354.3L199.2 350.3M213.5 354.3L213.5 350.3M227.8 354.3L227.8 350.3M242.1 354.3L242.1 346.3M256.4 354.3L256.4 350.3M270.7 354.3L270.7 350.3M285 354.3L285 350.3M299.3 354.3L299.3 350.3M313.6 354.3L313.6 346.3M327.9 354.3L327.9 350.3M342.2 354.3L342.2 350.3M356.5 354.3L356.5 350.3M370.8 354.3L370.8 350.3M385.1 354.3L385.1 346.3M399.4 354.3L399.4 350.3M413.7 354.3L413.7 350.3M428 354.3L428 350.3M442.3 354.3L442.3 350.3M456.6 354.3L456.6 346.3M470.9 354.3L470.9 350.3M485.2 354.3L485.2 350.3M499.5 354.3L499.5 350.3M513.8 354.3L513.8 350.3M99.1 345.71L104.1 345.71M99.1 337.12L104.1 337.12M99.1 328.54L104.1 328.54M99.1 319.95L108.1 319.95M99.1 311.36L104.1 311.36M99.1 302.77L104.1 302.77M99.1 294.19L104.1 294.19M99.1 285.6L108.1 285.6M99.1 277.01L104.1 277.01M99.1 268.43L104.1 268.43M99.1 259.84L104.1 259.84M99.1 251.25L108.1 251.25M99.1 242.66L104.1 242.66M99.1 234.07L104.1 234.07M99.1 225.49L104.1 225.49M99.1 216.9L108.1 216.9M99.1 208.31L104.1 208.31M99.1 199.72L104.1 199.72M99.1 191.14L104.1 191.14M528.1 345.71L523.1 345.71M528.1 337.12L523.1 337.12M528.1 328.54L523.1 328.54M528.1 319.95L523.1 319.95M528.1 311.36L519.1 311.36M528.1 302.78L523.1 302.78M528.1 294.19L523.1 294.19M528.1 285.6L523.1 285.6M528.1 277.01L523.1 277.01M528.1 268.43L519.1 268.43M528.1 259.84L523.1 259.84M528.1 251.25L523.1 251.25M528.1 242.66L523.1 242.66M528.1 234.08L523.1 234.08M528.1 225.49L519.1 225.49M528.1 216.9L523.1 216.9M528.1 208.31L523.1 208.31M528.1 199.73L523.1 199.73M528.1 191.14L523.1 191.14M113.4 526.05L113.4 522.05M127.7 526.05L127.7 522.05M142 526.05L142 522.05M156.3 526.05L156.3 522.05M170.6 526.05L170.6 518.05M184.9 526.05L184.9 522.05M199.2 526.05L199.2 522.05M213.5 526.05L213.5 522.05M227.8 526.05L227.8 522.05M242.1 526.05L242.1 518.05M256.4 526.05L256.4 522.05M270.7 526.05L270.7 522.05M285 526.05L285 522.05M299.3 526.05L299.3 522.05M313.6 526.05L313.6 518.05M327.9 526.05L327.9 522.05M342.2 526.05L342.2 522.05M356.5 526.05L356.5 522.05M370.8 526.05L370.8 522.05M385.1 526.05L385.1 518.05M399.4 526.05L399.4 522.05M413.7 526.05L413.7 522.05M428 526.05L428 522.05M442.3 526.05L442.3 522.05M456.6 526.05L456.6 518.05M470.9 526.05L470.9 522.05M485.2 526.05L485.2 522.05M499.5 526.05L499.5 522.05M513.8 526.05L513.8 522.05M99.1 515.32L104.1 515.32M99.1 504.58L104.1 504.58M99.1 493.85L104.1 493.85M99.1 483.11L108.1 483.11M99.1 472.38L104.1 472.38M99.1 461.64L104.1 461.64M99.1 450.91L104.1 450.91M99.1 440.17L108.1 440.17M99.1 429.44L104.1 429.44M99.1 418.71L104.1 418.71M99.1 407.97L104.1 407.97M99.1 397.24L108.1 397.24M99.1 386.5L104.1 386.5M99.1 375.77L104.1 375.77M99.1 365.03L104.1 365.03M528.1 517.46L523.1 517.46M528.1 508.87L523.1 508.87M528.1 500.29L523.1 500.29M528.1 491.7L523.1 491.7M528.1 483.11L519.1 483.11M528.1 474.52L523.1 474.52M528.1 465.94L523.1 465.94M528.1 457.35L523.1 457.35M528.1 448.76L523.1 448.76M528.1 440.17L519.1 440.17M528.1 431.59L523.1 431.59M528.1 423L523.1 423M528.1 414.41L523.1 414.41M528.1 405.82L523.1 405.82M528.1 397.24L519.1 397.24M528.1 388.65L523.1 388.65M528.1 380.06L523.1 380.06M528.1 371.47L523.1 371.47M528.1 362.89L523.1 362.89M113.4 697.8L113.4 693.8M127.7 697.8L127.7 693.8M142 697.8L142 693.8M156.3 697.8L156.3 693.8M170.6 697.8L170.6 689.8M184.9 697.8L184.9 693.8M199.2 697.8L199.2 693.8M213.5 697.8L213.5 693.8M227.8 697.8L227.8 693.8M242.1 697.8L242.1 689.8M256.4 697.8L256.4 693.8M270.7 697.8L270.7 693.8M285 697.8L285 693.8M299.3 697.8L299.3 693.8M313.6 697.8L313.6 689.8M327.9 697.8L327.9 693.8M342.2 697.8L342.2 693.8M356.5 697.8L356.5 693.8M370.8 697.8L370.8 693.8M385.1 697.8L385.1 689.8M399.4 697.8L399.4 693.8M413.7 697.8L413.7 693.8M428 697.8L428 693.8M442.3 697.8L442.3 693.8M456.6 697.8L456.6 689.8M470.9 697.8L470.9 693.8M485.2 697.8L485.2 693.8M499.5 697.8L499.5 693.8M513.8 697.8L513.8 693.8M99.1 687.07L104.1 687.07M99.1 676.33L104.1 676.33M99.1 665.6L104.1 665.6M99.1 654.86L108.1 654.86M99.1 644.13L104.1 644.13M99.1 633.39L104.1 633.39M99.1 622.66L104.1 622.66M99.1 611.92L108.1 611.92M99.1 601.19L104.1 601.19M99.1 590.46L104.1 590.46M99.1 579.72L104.1 579.72M99.1 568.99L108.1 568.99M99.1 558.25L104.1 558.25M99.1 547.52L104.1 547.52M99.1 536.78L104.1 536.78M528.1 689.21L523.1 689.21M528.1 680.62L523.1 680.62M528.1 672.04L523.1 672.04M528.1 663.45L523.1 663.45M528.1 654.86L519.1 654.86M528.1 646.27L523.1 646.27M528.1 637.69L523.1 637.69M528.1 629.1L523.1 629.1M528.1 620.51L523.1 620.51M528.1 611.92L519.1 611.92M528.1 603.34L523.1 603.34M528.1 594.75L523.1 594.75M528.1 586.16L523.1 586.16M528.1 577.57L523.1 577.57M528.1 568.99L519.1 568.99M528.1 560.4L523.1 560.4M528.1 551.81L523.1 551.81M528.1 543.22L523.1 543.22M528.1 534.64L523.1 534.64" stroke="#000" stroke-width="1.6" fill="none"/>
<path d="M99.1 10.8H528.1V697.8H99.1ZM99.1 182.55H528.1M99.1 354.3H528.1M99.1 526.05H528.1" stroke="#000" stroke-width="1.65" fill="none"/>
<line x1="129.42" y1="62.01" x2="144.42" y2="53.76" stroke="#8a2020" stroke-width="1.4"/><line x1="144.42" y1="53.76" x2="159.42" y2="45.51" stroke="#333" stroke-width="1.4"/><line x1="127.98" y1="59.39" x2="142.98" y2="51.14" stroke="#8a2020" stroke-width="1.4"/><line x1="142.98" y1="51.14" x2="157.98" y2="42.89" stroke="#333" stroke-width="1.4"/>
<line x1="159.41" y1="45.52" x2="171.16" y2="39.17" stroke="#333" stroke-width="1.4"/><line x1="171.16" y1="39.17" x2="182.91" y2="32.82" stroke="#8a2020" stroke-width="1.4"/><line x1="157.99" y1="42.88" x2="169.74" y2="36.53" stroke="#333" stroke-width="1.4"/><line x1="169.74" y1="36.53" x2="181.49" y2="30.18" stroke="#8a2020" stroke-width="1.4"/>
<circle cx="182.2" cy="31.5" r="9.3" fill="url(#gr)"/><circle cx="179.97" cy="29.73" r="2.23" fill="url(#hr)"/><circle cx="184.06" cy="29.73" r="2.23" fill="url(#hr)"/>
<circle cx="158.7" cy="44.2" r="10.8" fill="url(#gk)"/><circle cx="156.11" cy="42.15" r="2.59" fill="url(#hk)"/><circle cx="160.86" cy="42.15" r="2.59" fill="url(#hk)"/>
<circle cx="128.7" cy="60.7" r="12" fill="url(#gr)"/><circle cx="125.82" cy="58.42" r="2.88" fill="url(#hr)"/><circle cx="131.1" cy="58.42" r="2.88" fill="url(#hr)"/>
<line x1="147.87" y1="221.72" x2="159.62" y2="213.37" stroke="#333" stroke-width="1.4"/><line x1="159.62" y1="213.37" x2="171.37" y2="205.02" stroke="#8a2020" stroke-width="1.4"/><line x1="146.13" y1="219.28" x2="157.88" y2="210.93" stroke="#333" stroke-width="1.4"/><line x1="157.88" y1="210.93" x2="169.63" y2="202.58" stroke="#8a2020" stroke-width="1.4"/>
<circle cx="170.5" cy="203.8" r="9.4" fill="url(#gr)"/><circle cx="168.24" cy="202.01" r="2.26" fill="url(#hr)"/><circle cx="172.38" cy="202.01" r="2.26" fill="url(#hr)"/>
<circle cx="147" cy="220.5" r="12.8" fill="url(#gk)"/><circle cx="143.93" cy="218.07" r="3.07" fill="url(#hk)"/><circle cx="149.56" cy="218.07" r="3.07" fill="url(#hk)"/>
<line x1="156.7" y1="366.08" x2="156.55" y2="378.33" stroke="#8a2020" stroke-width="1.4"/><line x1="156.55" y1="378.33" x2="156.4" y2="390.58" stroke="#333" stroke-width="1.4"/><line x1="159.9" y1="366.12" x2="159.75" y2="378.37" stroke="#8a2020" stroke-width="1.4"/><line x1="159.75" y1="378.37" x2="159.6" y2="390.62" stroke="#333" stroke-width="1.4"/>
<line x1="158" y1="390.6" x2="148.2" y2="402.85" stroke="#333" stroke-width="2.4"/><line x1="148.2" y1="402.85" x2="138.4" y2="415.1" stroke="#8a2020" stroke-width="2.4"/>
<line x1="158" y1="390.6" x2="168.65" y2="402.85" stroke="#333" stroke-width="2.4"/><line x1="168.65" y1="402.85" x2="179.3" y2="415.1" stroke="#8a2020" stroke-width="2.4"/>
<line x1="138.4" y1="415.1" x2="158.85" y2="415.1" stroke="#8a2020" stroke-width="2.4"/><line x1="158.85" y1="415.1" x2="179.3" y2="415.1" stroke="#8a2020" stroke-width="2.4"/>
<circle cx="158.3" cy="366.1" r="8.2" fill="url(#gr)"/><circle cx="156.33" cy="364.54" r="2" fill="url(#hr)"/><circle cx="159.94" cy="364.54" r="2" fill="url(#hr)"/>
<circle cx="158" cy="390.6" r="9.1" fill="url(#gk)"/><circle cx="155.82" cy="388.87" r="2.18" fill="url(#hk)"/><circle cx="159.82" cy="388.87" r="2.18" fill="url(#hk)"/>
<circle cx="138.4" cy="415.1" r="8.6" fill="url(#gr)"/><circle cx="136.34" cy="413.47" r="2.06" fill="url(#hr)"/><circle cx="140.12" cy="413.47" r="2.06" fill="url(#hr)"/>
<circle cx="179.3" cy="415.1" r="8.6" fill="url(#gr)"/><circle cx="177.24" cy="413.47" r="2.06" fill="url(#hr)"/><circle cx="181.02" cy="413.47" r="2.06" fill="url(#hr)"/>
<line x1="131.15" y1="564.54" x2="156.65" y2="546.24" stroke="#4a1414" stroke-width="1.8"/><line x1="133.25" y1="567.46" x2="158.75" y2="549.16" stroke="#4a1414" stroke-width="1.8" stroke-dasharray="1.5 1.5"/>
<line x1="158.53" y1="546.1" x2="185.83" y2="560.2" stroke="#4a1414" stroke-width="1.8"/><line x1="156.87" y1="549.3" x2="184.17" y2="563.4" stroke="#4a1414" stroke-width="1.8" stroke-dasharray="1.5 1.5"/>
<circle cx="157.7" cy="547.7" r="9" fill="url(#go)"/><circle cx="155.54" cy="545.99" r="2.16" fill="url(#ho)"/><circle cx="159.5" cy="545.99" r="2.16" fill="url(#ho)"/>
<circle cx="132.2" cy="566" r="9.4" fill="url(#go)"/><circle cx="129.94" cy="564.21" r="2.26" fill="url(#ho)"/><circle cx="134.08" cy="564.21" r="2.26" fill="url(#ho)"/>
<circle cx="185" cy="561.8" r="9.1" fill="url(#go)"/><circle cx="182.82" cy="560.07" r="2.18" fill="url(#ho)"/><circle cx="186.82" cy="560.07" r="2.18" fill="url(#ho)"/>
<g font-family="Liberation Sans, sans-serif" fill="#151515" font-size="17.8">
<text x="90" y="186.15" text-anchor="end">0</text>
<text x="78.55" y="146.46" text-anchor="end">1x10</text>
<text x="78.6" y="136.41" font-size="10">17</text>
<text x="78.55" y="103.53" text-anchor="end">2x10</text>
<text x="78.6" y="93.48" font-size="10">17</text>
<text x="78.55" y="60.59" text-anchor="end">3x10</text>
<text x="78.6" y="50.54" font-size="10">17</text>
<text x="78.55" y="17.65" text-anchor="end">4x10</text>
<text x="78.6" y="7.6" font-size="10">17</text>
<text x="537.3" y="187.75">0</text>
<text x="537.3" y="144.81">50</text>
<text x="537.3" y="101.88">100</text>
<text x="537.3" y="58.94">150</text>
<text x="90" y="357.9" text-anchor="end">0</text>
<text x="78.55" y="326.8" text-anchor="end">1x10</text>
<text x="78.6" y="316.75" font-size="10">16</text>
<text x="78.55" y="292.45" text-anchor="end">2x10</text>
<text x="78.6" y="282.4" font-size="10">16</text>
<text x="78.55" y="258.1" text-anchor="end">3x10</text>
<text x="78.6" y="248.05" font-size="10">16</text>
<text x="78.55" y="223.75" text-anchor="end">4x10</text>
<text x="78.6" y="213.7" font-size="10">16</text>
<text x="537.3" y="359.5">0</text>
<text x="537.3" y="316.56">50</text>
<text x="537.3" y="273.62">100</text>
<text x="537.3" y="230.69">150</text>
<text x="90" y="529.65" text-anchor="end">0</text>
<text x="78.55" y="489.96" text-anchor="end">2x10</text>
<text x="78.6" y="479.91" font-size="10">14</text>
<text x="78.55" y="447.02" text-anchor="end">4x10</text>
<text x="78.6" y="436.97" font-size="10">14</text>
<text x="78.55" y="404.09" text-anchor="end">6x10</text>
<text x="78.6" y="394.04" font-size="10">14</text>
<text x="537.3" y="531.25">0</text>
<text x="537.3" y="488.31">50</text>
<text x="537.3" y="445.37">100</text>
<text x="537.3" y="402.44">150</text>
<text x="90" y="701.4" text-anchor="end">0</text>
<text x="78.55" y="661.71" text-anchor="end">2x10</text>
<text x="78.6" y="651.66" font-size="10">15</text>
<text x="78.55" y="618.77" text-anchor="end">4x10</text>
<text x="78.6" y="608.72" font-size="10">15</text>
<text x="78.55" y="575.84" text-anchor="end">6x10</text>
<text x="78.6" y="565.79" font-size="10">15</text>
<text x="537.3" y="703">0</text>
<text x="537.3" y="660.06">50</text>
<text x="537.3" y="617.12">100</text>
<text x="537.3" y="574.19">150</text>
<text x="537.3" y="16">200</text>
<text x="99.1" y="722" text-anchor="middle">0</text>
<text x="186.9" y="725" text-anchor="end">1x10</text>
<text x="187" y="715.5" font-size="10">4</text>
<text x="258.4" y="725" text-anchor="end">2x10</text>
<text x="258.5" y="715.5" font-size="10">4</text>
<text x="329.9" y="725" text-anchor="end">3x10</text>
<text x="330" y="715.5" font-size="10">4</text>
<text x="401.4" y="725" text-anchor="end">4x10</text>
<text x="401.5" y="715.5" font-size="10">4</text>
<text x="472.9" y="725" text-anchor="end">5x10</text>
<text x="473" y="715.5" font-size="10">4</text>
<text x="544.4" y="725" text-anchor="end">6x10</text>
<text x="544.5" y="715.5" font-size="10">4</text>
</g>
<text font-family="Liberation Sans, sans-serif" fill="#151515" font-size="19.3" x="316.7" y="752.9" text-anchor="middle">time / s</text>
<text font-family="Liberation Sans, sans-serif" fill="#151515" font-size="20" transform="translate(19.5 385) rotate(-90)" text-anchor="middle">column density / molecules cm<tspan font-size="11" dy="-11">-2</tspan></text>
<text font-family="Liberation Sans, sans-serif" fill="#151515" font-size="21" transform="translate(595.3 373) rotate(-90)" text-anchor="middle">temperature / K</text>
<text font-family="Liberation Sans, sans-serif" fill="#151515" font-size="22" x="288.4" y="40.8">D</text>
<text font-family="Liberation Sans, sans-serif" fill="#151515" font-size="12.5" font-weight="bold" x="304.3" y="49.4">2</text>
<text font-family="Liberation Sans, sans-serif" fill="#151515" font-size="12.5" font-weight="bold" x="311.2" y="30">+</text>
<text font-family="Liberation Sans, sans-serif" fill="#151515" font-size="22" x="323.7" y="40.8">off</text>
</svg>
</body></html>
